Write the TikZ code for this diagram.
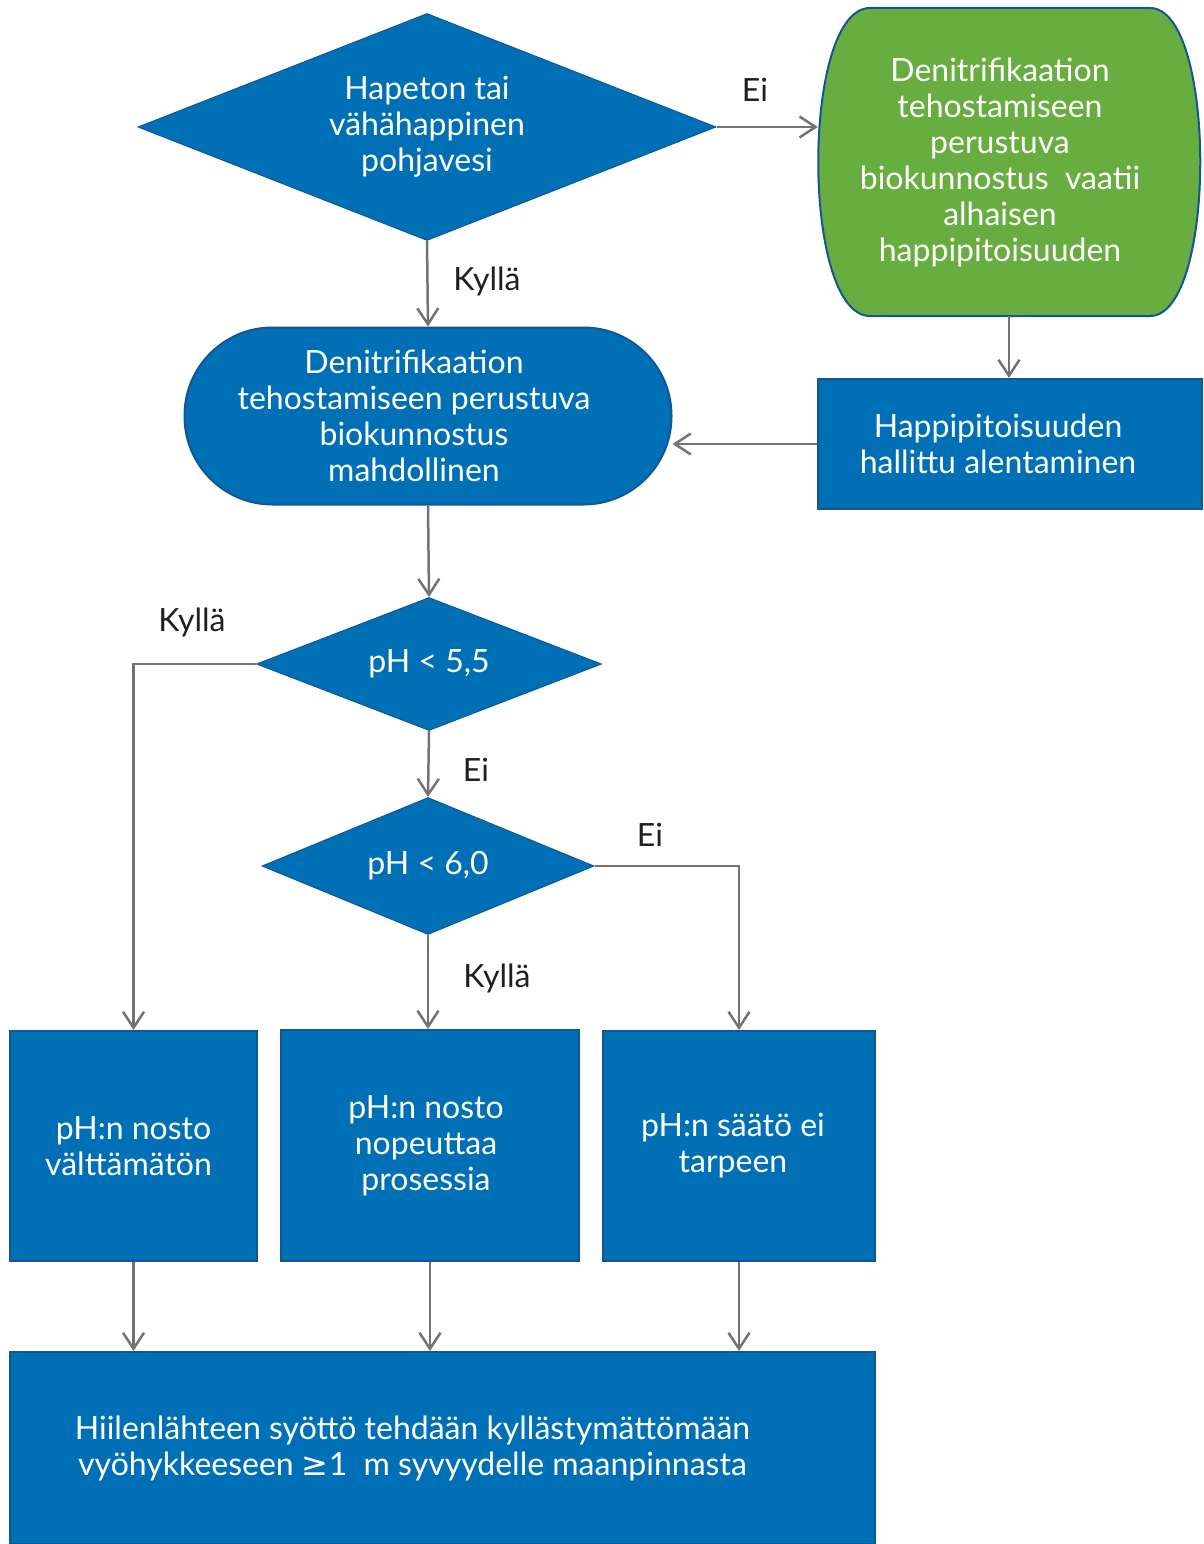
\documentclass[tikz,border=0pt]{standalone}
\usepackage{fontspec}
\setmainfont{Lato}
\newfontfamily\symfont{DejaVu Sans}
\usetikzlibrary{shapes.geometric, arrows.meta}

\definecolor{flowblue}{RGB}{0,112,182}
\definecolor{edgeblue}{RGB}{18,86,146}
\definecolor{flowgreen}{RGB}{103,173,63}
\definecolor{linegray}{RGB}{118,114,114}
\definecolor{labelink}{RGB}{35,31,32}
\newcommand{\padright}[1]{\rule{#1}{0pt}}

\begin{document}
\begin{tikzpicture}[x=1pt,y=-1pt,
  every node/.style={font=\fontsize{32}{36}\selectfont},
  decision/.style={diamond, fill=flowblue, draw=edgeblue, line width=1pt, text=white, align=center, inner sep=0pt, shape aspect=2.5},
  process/.style={rectangle, fill=flowblue, draw=edgeblue, line width=2pt, text=white, align=center, inner sep=0pt},
  flow/.style={draw=linegray, line width=2.5pt, -{Straight Barb[length=16pt,width=21pt]}},
  answer/.style={text=labelink}]
\useasboundingbox (0,0) rectangle (1203,1544);

% green terminal with bulging sides
\filldraw[fill=flowgreen, draw=edgeblue, line width=2pt]
  (870,8) -- (1150,8) .. controls (1217,8) and (1217,316) .. (1150,316)
  -- (870,316) .. controls (801,316) and (801,8) .. (870,8) -- cycle;

\node[decision, minimum width=578pt, minimum height=227pt] (anoxic) at (427,127) {Hapeton tai\\vähähappinen\\pohjavesi};
\node[minimum width=382pt, minimum height=308pt, text=white, align=center, inner sep=0pt] (needs) at (1009,162)
  {Denitrifikaation\padright{18pt}\\tehostamiseen\padright{18pt}\\perustuva\padright{18pt}\\biokunnostus\ \ vaatii\padright{18pt}\\alhaisen\padright{18pt}\\happipitoisuuden\padright{18pt}};
\node[process, rounded corners=88pt, minimum width=487pt, minimum height=177pt] (possible) at (428,416)
  {Denitrifikaation\padright{28pt}\\tehostamiseen perustuva\padright{28pt}\\biokunnostus\padright{28pt}\\mahdollinen\padright{28pt}};
\node[process, minimum width=384pt, minimum height=130pt] (lower) at (1010,444)
  {Happipitoisuuden\padright{24pt}\\hallittu alentaminen\padright{24pt}};
\node[decision, minimum width=345pt, minimum height=133pt] (phlow) at (429,664) {pH < 5,5};
\node[decision, minimum width=332pt, minimum height=137pt] (phmid) at (428,866) {pH < 6,0};
\node[process, minimum width=247pt, minimum height=230pt] (must) at (133.5,1146) {pH:n nosto\\välttämätön\padright{10pt}};
\node[process, minimum width=298pt, minimum height=231pt] (speeds) at (430,1145.5) {pH:n nosto\padright{8pt}\\nopeuttaa\padright{8pt}\\prosessia\padright{8pt}};
\node[process, minimum width=272pt, minimum height=230pt] (noneed) at (739,1146) {pH:n säätö ei\padright{12pt}\\tarpeen\padright{12pt}};
\node[process, minimum width=865pt, minimum height=192pt] (feed) at (442.5,1448)
  {Hiilenlähteen syöttö tehdään kyllästymättömään\padright{60pt}\\vyöhykkeeseen {\symfont ≥}1\ \ m syvyydelle maanpinnasta\padright{60pt}};

% answers
\node[answer] (eiA) at (755,90) {Ei};
\node[answer] (yesA) at (487,281) {Kyllä};
\node[answer] (yesB) at (192,622) {Kyllä};
\node[answer] (eiB) at (476,770) {Ei};
\node[answer] (eiC) at (650,835) {Ei};
\node[answer] (yesC) at (497,978) {Kyllä};

% connectors
\draw[flow] (anoxic.east) -- (anoxic.east -| needs.west);
\draw[flow] (anoxic.south) -- (possible.north);
\draw[flow] (needs.south) -- (needs.south |- lower.north);
\draw[flow] (lower.west) -- (lower.west -| possible.east);
\draw[flow] (possible.south) -- (phlow.north);
\draw[flow] (phlow.west) -| (must.north);
\draw[flow] (phlow.south) -- (phmid.north);
\draw[flow] (phmid.east) -| (noneed.north);
\draw[flow] (phmid.south) -- (phmid.south |- speeds.north);
\draw[flow] (must.south) -- (must.south |- feed.north);
\draw[flow] (speeds.south) -- (speeds.south |- feed.north);
\draw[flow] (noneed.south) -- (noneed.south |- feed.north);
\end{tikzpicture}
\end{document}
